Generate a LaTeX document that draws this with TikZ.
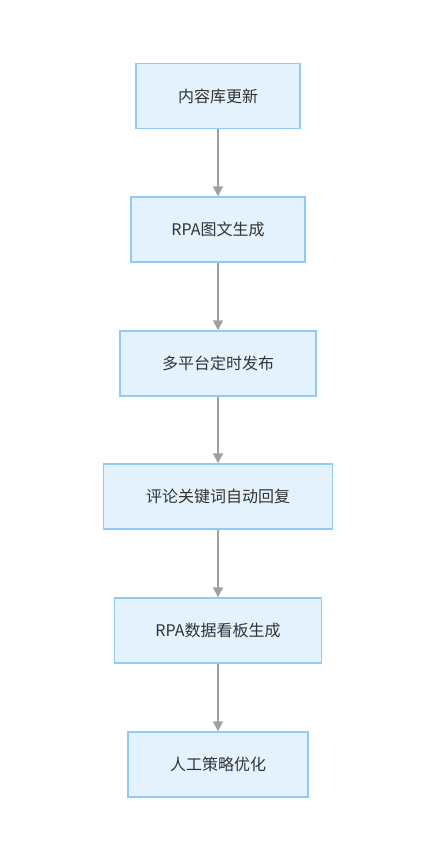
\documentclass[tikz,border=0pt]{standalone}
\usepackage{fontspec}
\setmainfont{Noto Sans CJK SC}
\usepackage{xcolor}
\usepackage{tikz}
\usetikzlibrary{shapes,arrows.meta}
\definecolor{boxfill}{HTML}{E3F2FD}
\definecolor{boxline}{HTML}{90CAF9}
\definecolor{arrgray}{HTML}{A0A0A0}
\definecolor{txtgray}{HTML}{333333}
\tikzset{blk/.style={rectangle,draw=boxline,fill=boxfill,line width=1.5bp,minimum height=65bp,inner sep=0pt,text=txtgray,font=\fontsize{16bp}{19bp}\selectfont},
  arr/.style={draw=arrgray,line width=1.5bp,-{Triangle[width=10bp,length=10bp]}}}

\begin{document}
\begin{tikzpicture}[x=1bp,y=-1bp]
    \useasboundingbox (0,0) rectangle (435,856);
    \node[blk,minimum width=164bp] (a)at (218,96) {内容库更新};
    \node[blk,minimum width=174bp] (b)at (218,229.5) {RPA图文生成};
    \node[blk,minimum width=196bp] (c)at (218,363.5) {多平台定时发布};
    \node[blk,minimum width=229bp] (d)at (218,496.5) {评论关键词自动回复};
    \node[blk,minimum width=207bp] (e)at (218,630.5) {RPA数据看板生成};
    \node[blk,minimum width=180bp] (f)at (218,764.5) {人工策略优化};

    \draw [arr] (a) -- (b);
    \draw [arr] (b) -- (c);
    \draw [arr] (c) -- (d);
    \draw [arr] (d) -- (e);
    \draw [arr] (e) -- (f);
\end{tikzpicture}
\end{document}
